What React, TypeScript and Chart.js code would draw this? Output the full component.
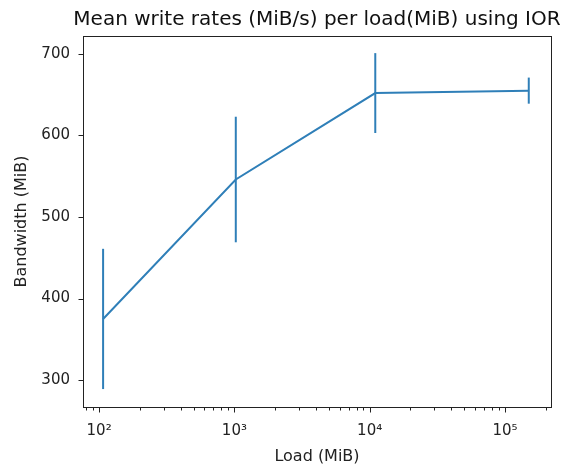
import React, { useEffect, useRef } from "react";
import { Chart, registerables } from "chart.js";

Chart.register(...registerables);

const TITLE = "Mean write rates (MiB/s) per load(MiB) using IOR";
const X_LABEL = "Load (MiB)";
const Y_LABEL = "Bandwidth (MiB)";

const loads = [107, 1024, 11000, 150000];
const meanRates = [375, 546, 652, 655];
const rateErrors = [86, 77, 49, 16];

const xMajorTicks = [100, 1000, 10000, 100000];
const xMajorLabels = ["10²", "10³", "10⁴", "10⁵"];
const yTicks = [300, 400, 500, 600, 700];

const X_MIN = 76;
const X_MAX = 219000;
const Y_MIN = 267;
const Y_MAX = 722;

const COLOR = "#2f7fb8";
const FONT = "'DejaVu Sans', sans-serif";

function minorTicks(): number[] {
  const out: number[] = [];
  for (let e = 1; e <= 5; e++) {
    for (let m = 2; m <= 9; m++) {
      const v = m * Math.pow(10, e);
      if (v >= X_MIN && v <= X_MAX) out.push(v);
    }
  }
  return out;
}

const decorPlugin = {
  id: "decor",
  afterDatasetsDraw(chart: any) {
    const ctx = chart.ctx;
    const xs = chart.scales.x;
    const ys = chart.scales.y;
    ctx.save();
    ctx.strokeStyle = COLOR;
    ctx.lineWidth = 2;
    ctx.lineCap = "butt";
    for (let i = 0; i < loads.length; i++) {
      const px = xs.getPixelForValue(loads[i]);
      const y1 = ys.getPixelForValue(meanRates[i] + rateErrors[i]);
      const y2 = ys.getPixelForValue(meanRates[i] - rateErrors[i]);
      ctx.beginPath();
      ctx.moveTo(px, y1);
      ctx.lineTo(px, y2);
      ctx.stroke();
    }
    ctx.restore();
  },
  afterDraw(chart: any) {
    const ctx = chart.ctx;
    const a = chart.chartArea;
    const xs = chart.scales.x;
    const ys = chart.scales.y;
    ctx.save();
    ctx.strokeStyle = "#222";
    ctx.lineWidth = 1;
    ctx.strokeRect(Math.round(a.left) + 0.5, Math.round(a.top) + 0.5, Math.round(a.right - a.left), Math.round(a.bottom - a.top));
    const bottom = Math.round(a.bottom) + 0.5;
    const left = Math.round(a.left) + 0.5;
    ctx.beginPath();
    for (const v of xMajorTicks) {
      const px = Math.round(xs.getPixelForValue(v)) + 0.5;
      ctx.moveTo(px, bottom);
      ctx.lineTo(px, bottom + 5);
    }
    for (const v of minorTicks()) {
      const px = Math.round(xs.getPixelForValue(v)) + 0.5;
      ctx.moveTo(px, bottom);
      ctx.lineTo(px, bottom + 3);
    }
    for (const v of yTicks) {
      const py = Math.round(ys.getPixelForValue(v)) + 0.5;
      ctx.moveTo(left, py);
      ctx.lineTo(left - 5, py);
    }
    ctx.stroke();
    // title centred over the plot area
    ctx.fillStyle = "#111";
    ctx.font = `20px ${FONT}`;
    ctx.textAlign = "center";
    ctx.textBaseline = "alphabetic";
    ctx.fillText(TITLE, (a.left + a.right) / 2, 25);
    ctx.restore();
  },
};

export default function App() {
  const ref = useRef<HTMLCanvasElement | null>(null);

  useEffect(() => {
    if (!ref.current) return;
    const chart = new Chart(ref.current, {
      type: "line",
      data: {
        datasets: [
          {
            data: loads.map((x, i) => ({ x, y: meanRates[i] })),
            borderColor: COLOR,
            backgroundColor: COLOR,
            borderWidth: 2,
            pointRadius: 0,
            tension: 0,
            fill: false,
          },
        ],
      },
      options: {
        animation: false,
        responsive: false,
        maintainAspectRatio: false,
        layout: { padding: { left: 0, right: 18, top: 36, bottom: 0 } },
        plugins: {
          legend: { display: false },
          tooltip: { enabled: false },
          title: { display: false },
        },
        scales: {
          x: {
            type: "logarithmic",
            min: X_MIN,
            max: X_MAX,
            afterBuildTicks: (s: any) => {
              s.ticks = xMajorTicks.map((v) => ({ value: v }));
            },
            afterFit: (s: any) => {
              s.height = 59;
              s.paddingLeft = 0;
              s.paddingRight = 0;
            },
            grid: { display: true, drawOnChartArea: false, drawTicks: false },
            border: { display: false },
            ticks: {
              autoSkip: false,
              maxRotation: 0,
              padding: 15,
              color: "#222",
              font: { family: FONT, size: 15 },
              callback: (v: any) => {
                const i = xMajorTicks.indexOf(Number(v));
                return i >= 0 ? xMajorLabels[i] : "";
              },
            },
            title: {
              display: true,
              text: X_LABEL,
              color: "#222",
              font: { family: FONT, size: 16 },
              padding: { top: 0, bottom: 0 },
            },
          },
          y: {
            type: "linear",
            min: Y_MIN,
            max: Y_MAX,
            afterBuildTicks: (s: any) => {
              s.ticks = yTicks.map((v) => ({ value: v }));
            },
            afterFit: (s: any) => {
              s.width = 83;
              s.paddingTop = 0;
              s.paddingBottom = 0;
            },
            grid: { display: true, drawOnChartArea: false, drawTicks: false },
            border: { display: false },
            ticks: {
              autoSkip: false,
              padding: 13,
              color: "#222",
              font: { family: FONT, size: 15 },
              callback: (v: any) => String(v),
            },
            title: {
              display: true,
              text: Y_LABEL,
              color: "#222",
              font: { family: FONT, size: 16 },
              padding: { top: 12, bottom: 0 },
            },
          },
        },
      },
      plugins: [decorPlugin],
    });
    return () => chart.destroy();
  }, []);

  return (
    <div style={{ position: "absolute", left: 0, top: 0, width: 569, height: 466, background: "#fff" }}>
      <canvas ref={ref} width={569} height={466} style={{ width: 569, height: 466, display: "block" }} />
    </div>
  );
}
